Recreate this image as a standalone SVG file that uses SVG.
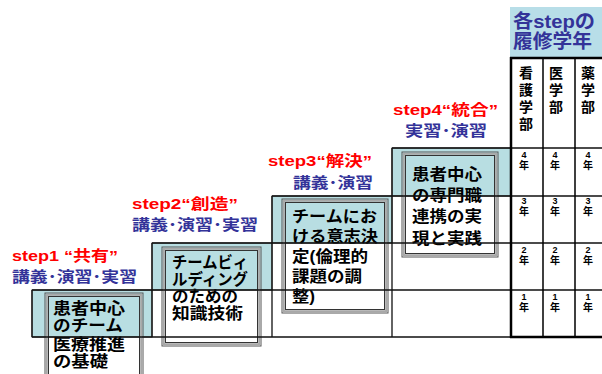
<svg xmlns="http://www.w3.org/2000/svg" width="602" height="374" viewBox="0 0 602 374">
<style>
text{font-family:"Liberation Sans","Noto Sans CJK JP",sans-serif;font-weight:bold}
.red{fill:#ff0000;font-size:15px}
.nav{fill:#333399;font-size:15px}
.box{font-size:16px;fill:#000}
.hd{fill:#333399;font-size:19px}
.col{font-size:14px;fill:#000;text-anchor:middle}
.yn{font-size:9px;fill:#000;text-anchor:middle}
.yk{font-size:10px;fill:#000;text-anchor:middle}
.blue{fill:#b8dee2;stroke:#333;stroke-width:1}
.f1{fill:none;stroke:#555;stroke-width:1}
.f2{fill:none;stroke:#a8a8a8;stroke-width:2}
.f3{fill:none;stroke:#333;stroke-width:1}
.ln{stroke:#111;stroke-width:1.3;fill:none}
.tk{stroke:#000;stroke-width:2.5;fill:none}
.tn{stroke:#000;stroke-width:1.5;fill:none}
</style>

<g id="header">
<rect x="510" y="7" width="92" height="50" fill="#b8dee8"/>
<text class="hd" x="513" y="28" textLength="82" lengthAdjust="spacingAndGlyphs">各stepの</text>
<text class="hd" x="513" y="48" textLength="79" lengthAdjust="spacingAndGlyphs">履修学年</text>
</g>

<g id="step1">
<rect class="blue" x="32" y="290" width="120" height="47"/>
<rect class="f1" x="45" y="293" width="98" height="95"/>
<rect class="f2" x="46.8" y="294.8" width="94.4" height="91.4"/>
<rect class="f3" x="48.5" y="296.5" width="91" height="88"/>
<text class="box" x="53" y="314" textLength="72" lengthAdjust="spacingAndGlyphs">患者中心</text>
<text class="box" x="53" y="331" textLength="70" lengthAdjust="spacingAndGlyphs">のチーム</text>
<text class="box" x="53" y="350" textLength="72" lengthAdjust="spacingAndGlyphs">医療推進</text>
<text class="box" x="53" y="367" textLength="55" lengthAdjust="spacingAndGlyphs">の基礎</text>
<text class="red" x="12" y="261" textLength="106" lengthAdjust="spacingAndGlyphs">step1 “共有”</text>
<text class="nav" x="12" y="282" textLength="125" lengthAdjust="spacingAndGlyphs">講義･演習･実習</text>
</g>

<g id="step2">
<rect class="blue" x="152" y="243" width="120" height="47"/>
<rect class="f1" x="162" y="247" width="99" height="99"/>
<rect class="f2" x="163.8" y="248.8" width="95.4" height="95.4"/>
<rect class="f3" x="165.5" y="250.5" width="92" height="92"/>
<text class="box" x="172" y="268" textLength="76" lengthAdjust="spacingAndGlyphs">チームビィ</text>
<text class="box" x="172" y="285" textLength="76" lengthAdjust="spacingAndGlyphs">ルディング</text>
<text class="box" x="172" y="302" textLength="66" lengthAdjust="spacingAndGlyphs">のための</text>
<text class="box" x="172" y="319" textLength="71" lengthAdjust="spacingAndGlyphs">知識技術</text>
<text class="red" x="132" y="209" textLength="106" lengthAdjust="spacingAndGlyphs">step2“創造”</text>
<text class="nav" x="132" y="230" textLength="126" lengthAdjust="spacingAndGlyphs">講義･演習･実習</text>
</g>

<g id="step3">
<rect class="blue" x="272" y="196" width="120" height="47"/>
<rect class="f1" x="282" y="199" width="106" height="114"/>
<rect class="f2" x="283.8" y="200.8" width="102.4" height="110.4"/>
<rect class="f3" x="285.5" y="202.5" width="99" height="107"/>
<text class="box" x="292" y="222" textLength="85" lengthAdjust="spacingAndGlyphs">チームにお</text>
<text class="box" x="292" y="242" textLength="86" lengthAdjust="spacingAndGlyphs">ける意志決</text>
<text class="box" x="292" y="262" textLength="76" lengthAdjust="spacingAndGlyphs">定(倫理的</text>
<text class="box" x="292" y="282" textLength="70" lengthAdjust="spacingAndGlyphs">課題の調</text>
<text class="box" x="292" y="302" textLength="23" lengthAdjust="spacingAndGlyphs">整)</text>
<text class="red" x="268" y="166" textLength="104" lengthAdjust="spacingAndGlyphs">step3“解決”</text>
<text class="nav" x="293" y="188" textLength="80" lengthAdjust="spacingAndGlyphs">講義･演習</text>
</g>

<g id="step4">
<rect class="blue" x="392" y="148" width="119" height="48"/>
<rect class="f1" x="402" y="152" width="96" height="105"/>
<rect class="f2" x="403.8" y="153.8" width="92.4" height="101.4"/>
<rect class="f3" x="405.5" y="155.5" width="89" height="98"/>
<text class="box" x="412" y="180" textLength="70" lengthAdjust="spacingAndGlyphs">患者中心</text>
<text class="box" x="412" y="201" textLength="70" lengthAdjust="spacingAndGlyphs">の専門職</text>
<text class="box" x="412" y="222" textLength="70" lengthAdjust="spacingAndGlyphs">連携の実</text>
<text class="box" x="412" y="244" textLength="70" lengthAdjust="spacingAndGlyphs">現と実践</text>
<text class="red" x="393" y="115" textLength="105" lengthAdjust="spacingAndGlyphs">step4“統合”</text>
<text class="nav" x="405" y="136" textLength="82" lengthAdjust="spacingAndGlyphs">実習･演習</text>
</g>

<g id="table">
<text class="col" x="526" y="78">看</text>
<text class="col" x="526" y="95">護</text>
<text class="col" x="526" y="112">学</text>
<text class="col" x="526" y="129">部</text>
<text class="col" x="556" y="78">医</text>
<text class="col" x="556" y="95">学</text>
<text class="col" x="556" y="112">部</text>
<text class="col" x="588" y="78">薬</text>
<text class="col" x="588" y="95">学</text>
<text class="col" x="588" y="112">部</text>

<g id="y4">
<text class="yn" x="524" y="158">4</text><text class="yk" x="524" y="169">年</text>
<text class="yn" x="555" y="158">4</text><text class="yk" x="555" y="169">年</text>
<text class="yn" x="588" y="158">4</text><text class="yk" x="588" y="169">年</text>
</g>
<g id="y3">
<text class="yn" x="524" y="204">3</text><text class="yk" x="524" y="215">年</text>
<text class="yn" x="555" y="204">3</text><text class="yk" x="555" y="215">年</text>
<text class="yn" x="588" y="204">3</text><text class="yk" x="588" y="215">年</text>
</g>
<g id="y2">
<text class="yn" x="524" y="253">2</text><text class="yk" x="524" y="264">年</text>
<text class="yn" x="555" y="253">2</text><text class="yk" x="555" y="264">年</text>
<text class="yn" x="588" y="253">2</text><text class="yk" x="588" y="264">年</text>
</g>
<g id="y1">
<text class="yn" x="524" y="300">1</text><text class="yk" x="524" y="311">年</text>
<text class="yn" x="555" y="300">1</text><text class="yk" x="555" y="311">年</text>
<text class="yn" x="588" y="300">1</text><text class="yk" x="588" y="311">年</text>
</g>
</g>

<g id="connectors">
<path class="ln" d="M392 148H602M272 196H602M152 243H602M32 290H602M32 337H511"/>
<path class="ln" d="M32 290V337M152 243V337M272 196V337M392 148V337"/>
<path class="tn" d="M543 58V337M575 58V337"/>
<path class="tk" d="M510 58H602M511 57V338M510 337H602"/>
</g>
</svg>
